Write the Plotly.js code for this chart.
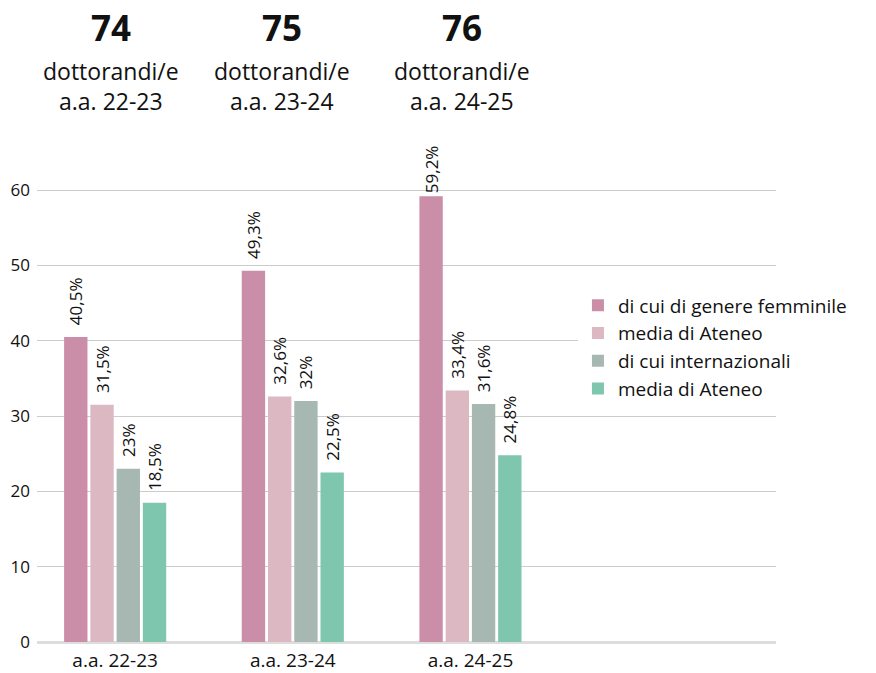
<!DOCTYPE html>
<html>
<head>
<meta charset="utf-8">
<script src="https://cdn.plot.ly/plotly-3.0.1.min.js"></script>
<style>html,body{margin:0;padding:0;background:#fff;}#chart{width:876px;height:673px;}</style>
</head>
<body>
<div id="chart"></div>
<script>
const categories = ['a.a. 22-23', 'a.a. 23-24', 'a.a. 24-25'];
const seriesNames = ['di cui di genere femminile', 'media di Ateneo', 'di cui internazionali', 'media di Ateneo'];
const femminile = [40.5, 49.3, 59.2];
const mediaAteneo1 = [31.5, 32.6, 33.4];
const internazionali = [23, 32, 31.6];
const mediaAteneo2 = [18.5, 22.5, 24.8];
const totals = [74, 75, 76];
const headerLabel = 'dottorandi/e';
const yTicks = [0, 10, 20, 30, 40, 50, 60];

const colors = ['#CB8EA9', '#DBB8C2', '#A7B8B2', '#7EC6AD'];
const FONT = '"Open Sans", "Noto Sans", sans-serif';
const seriesValues = [femminile, mediaAteneo1, internazionali, mediaAteneo2];

const Y_MAX = 66;
const PLOT_H = 673 - 145 - 31;
const PX_PER_UNIT = PLOT_H / Y_MAX;
const NB = '\u00A0';
// labels sit ~12px above their bar, unless that would push them past the plot top
const fmt = v => {
  const room = (Y_MAX - v) * PX_PER_UNIT;
  const pad = room > 62 ? NB + NB : '';
  return pad + String(v).replace('.', ',') + '%';
};

const traces = seriesValues.map((vals, i) => ({
  type: 'bar',
  name: seriesNames[i],
  x: categories,
  y: vals,
  text: vals.map(fmt),
  textposition: 'outside',
  textangle: -90,
  constraintext: 'none',
  textfont: {family: FONT, size: 17, color: '#111'},
  cliponaxis: false,
  marker: {color: colors[i]},
  hoverinfo: 'none'
}));

const headerX = [0.1001, 0.3315, 0.5751];
const annotations = [];
totals.forEach((t, i) => {
  annotations.push({
    xref: 'paper', yref: 'paper', x: headerX[i], y: 1.2374,
    xanchor: 'center', yanchor: 'middle', showarrow: false,
    text: '<b>' + t + '</b>',
    font: {family: FONT, size: 35, color: '#111'}
  });
  annotations.push({
    xref: 'paper', yref: 'paper', x: headerX[i], y: 1.1187,
    xanchor: 'center', yanchor: 'middle', showarrow: false,
    text: headerLabel + '<br>' + categories[i],
    font: {family: FONT, size: 23, color: '#111'}
  });
});

const layout = {
  width: 876, height: 673,
  margin: {l: 37, r: 100, t: 145, b: 31},
  paper_bgcolor: '#fff', plot_bgcolor: '#fff',
  font: {family: FONT, color: '#111'},
  barmode: 'group',
  bargap: 0.409,
  bargroupgap: 0.11,
  showlegend: true,
  legend: {
    x: 0.732, y: 0.5936, xanchor: 'left', yanchor: 'middle',
    bgcolor: '#fff', font: {family: FONT, size: 19, color: '#111'},
    traceorder: 'normal'
  },
  xaxis: {
    type: 'category', range: [-0.44, 3.72], fixedrange: true,
    showgrid: false, showline: false, zeroline: false, ticks: '',
    ticklabelstandoff: 5,
    tickfont: {family: FONT, size: 19, color: '#111'}
  },
  yaxis: {
    range: [0, Y_MAX], tickvals: yTicks, showgrid: true,
    gridcolor: '#cccccc', gridwidth: 1,
    zeroline: true, zerolinecolor: '#dddddd', zerolinewidth: 3,
    showline: false, ticks: '', ticklabelstandoff: 6,
    tickfont: {family: FONT, size: 17, color: '#111'}
  },
  annotations: annotations
};

Plotly.newPlot('chart', traces, layout, {displayModeBar: false, staticPlot: true});
</script>
</body>
</html>
